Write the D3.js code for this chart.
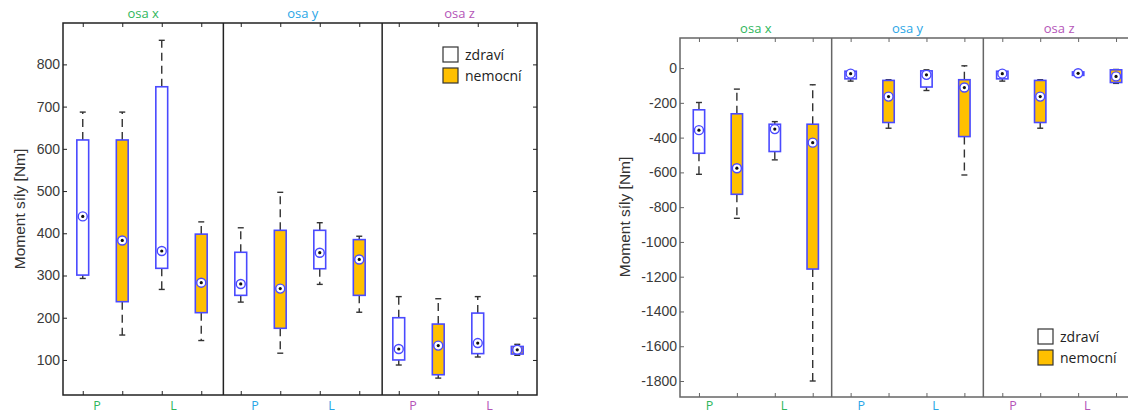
<!DOCTYPE html>
<html>
    <head>
        <meta charset="utf-8">
        <script src="https://d3js.org/d3.v7.min.js"></script>
        <style>
            body { margin: 0; background: #fff; }
            svg { display: block; }
        </style>
    </head>
    <body>
        <svg id="chart" width="1128" height="414"></svg>
        <script>
            /* axis groups, their colours and the P / L sides */
            const groups= ["osa x", "osa y", "osa z"];
            const groupColors= ["#2fb65c", "#2aa6e6", "#b455b8"];
            const sides= ["P", "L"];
            const statuses= ["zdraví", "nemocní"];
            // order of boxes inside one group: P zdravi, P nemocni, L zdravi, L nemocni

            /* five number summary per box: [whiskerLow, q1, median, q3, whiskerHigh] */
            const leftStats= [
                [293, 301, 440, 621, 687],
                [159, 238, 383, 621, 687],
                [267, 317, 358, 747, 857],
                [146, 212, 283, 398, 427],
                [237, 253, 280, 355, 413],
                [116, 175, 269, 407, 497],
                [279, 316, 354, 407, 425],
                [213, 253, 338, 385, 393],
                [88, 100, 126, 200, 250],
                [57, 65, 134, 185, 245],
                [107, 115, 140, 211, 250],
                [111, 114, 124, 132, 137]
            ];
            const rightStats= [
                [-611, -490, -357, -240, -198],
                [-864, -726, -576, -263, -121],
                [-528, -480, -351, -323, -308],
                [-1800, -1156, -429, -323, -96],
                [-75, -62, -32, -18, -15],
                [-346, -313, -164, -71, -67],
                [-129, -109, -39, -16, -10],
                [-615, -394, -112, -67, 13],
                [-75, -62, -32, -18, -15],
                [-346, -313, -164, -71, -67],
                [-45, -42, -30, -22, -20],
                [-88, -83, -48, -10, -8]
            ];
            const leftTicks= [100, 200, 300, 400, 500, 600, 700, 800];
            const rightTicks= [0, -200, -400, -600, -800, -1000, -1200, -1400, -1600, -1800];

            const svg= d3.select("#chart");

            /* draw one panel with three groups of four boxes */
            function drawPanel(p) {
                let g= svg.append("g");
                let x= d3.scaleLinear().domain([0.5, 12.5]).range([p.x0, p.x1]);
                let y= d3.scaleLinear().domain(p.yDomain).range([p.y1, p.y0]);
                let positions= d3.range(1, 13);

                // inward ticks on all four sides
                g.append("g").attr("transform", "translate(0," + p.y1 + ")")
                    .call(d3.axisTop(x).tickValues(positions).tickSize(4).tickFormat(""))
                    .call(a => a.select(".domain").remove())
                    .selectAll("line").attr("stroke", p.axisColor);
                g.append("g").attr("transform", "translate(0," + p.y0 + ")")
                    .call(d3.axisBottom(x).tickValues(positions).tickSize(4).tickFormat(""))
                    .call(a => a.select(".domain").remove())
                    .selectAll("line").attr("stroke", p.axisColor);
                let yAxis= g.append("g").attr("transform", "translate(" + p.x0 + ",0)")
                    .call(d3.axisRight(y).tickValues(p.ticks).tickSize(4).tickPadding(-7)
                        .tickFormat(d => String(d)));
                yAxis.select(".domain").remove();
                yAxis.selectAll("line").attr("stroke", p.axisColor);
                yAxis.selectAll("text")
                    .attr("text-anchor", "end")
                    .attr("fill", "#3a3a3a")
                    .style("font-family", "'Liberation Sans', Arial, sans-serif")
                    .style("font-size", p.tickFont + "px");
                g.append("g").attr("transform", "translate(" + p.x1 + ",0)")
                    .call(d3.axisLeft(y).tickValues(p.ticks).tickSize(4).tickFormat(""))
                    .call(a => a.select(".domain").remove())
                    .selectAll("line").attr("stroke", p.axisColor);

                // frame
                g.append("rect")
                    .attr("x", p.x0).attr("y", p.y0)
                    .attr("width", p.x1 - p.x0).attr("height", p.y1 - p.y0)
                    .attr("fill", "none").attr("stroke", p.axisColor).attr("stroke-width", 1.5);

                // group separators
                for (let s of p.separators) {
                    g.append("line")
                        .attr("x1", x(s)).attr("x2", x(s))
                        .attr("y1", p.y0).attr("y2", p.y1)
                        .attr("stroke", p.axisColor).attr("stroke-width", 1.5);
                }

                // group titles and P / L labels
                groups.forEach(function (name, i) {
                    let left= i == 0 ? 0.5 : p.separators[i - 1];
                    let right= i == 2 ? 12.5 : p.separators[i];
                    g.append("text")
                        .attr("x", (x(left) + x(right)) / 2)
                        .attr("y", p.titleY)
                        .attr("text-anchor", "middle")
                        .attr("fill", groupColors[i])
                        .style("font-family", "'Open Sans', sans-serif")
                        .style("font-size", "13px")
                        .text(name);
                    sides.forEach(function (side, j) {
                        g.append("text")
                            .attr("x", x(i * 4 + p.sideOffsets[j]))
                            .attr("y", 410)
                            .attr("text-anchor", "middle")
                            .attr("fill", groupColors[i])
                            .style("font-family", "'Open Sans', sans-serif")
                            .style("font-size", "12.5px")
                            .text(side);
                    });
                });

                // boxes
                let half= (x(0.3) - x(0)) / 2;
                p.stats.forEach(function (st, k) {
                    let cx= x(k + 1);
                    let sick= k % 2 == 1;
                    let b= g.append("g");
                    // whiskers
                    b.append("line")
                        .attr("x1", cx).attr("x2", cx)
                        .attr("y1", y(st[3])).attr("y2", y(st[4]))
                        .attr("stroke", "#333").attr("stroke-width", 1.4)
                        .attr("stroke-dasharray", "8,5");
                    b.append("line")
                        .attr("x1", cx).attr("x2", cx)
                        .attr("y1", y(st[1])).attr("y2", y(st[0]))
                        .attr("stroke", "#333").attr("stroke-width", 1.4)
                        .attr("stroke-dasharray", "8,5");
                    for (let v of [st[0], st[4]]) {
                        b.append("line")
                            .attr("x1", cx - 3).attr("x2", cx + 3)
                            .attr("y1", y(v)).attr("y2", y(v))
                            .attr("stroke", "#333").attr("stroke-width", 1.4);
                    }
                    b.append("rect")
                        .attr("x", cx - half).attr("width", 2 * half)
                        .attr("y", y(st[3])).attr("height", Math.max(y(st[1]) - y(st[3]), 1))
                        .attr("fill", sick ? "#ffc000" : "#fff")
                        .attr("stroke", "#4a4aff").attr("stroke-width", 1.6);
                    // median marker
                    b.append("circle")
                        .attr("cx", cx).attr("cy", y(st[2])).attr("r", 4.5)
                        .attr("fill", "#fff").attr("stroke", "#4a4aff").attr("stroke-width", 1.4);
                    b.append("circle")
                        .attr("cx", cx).attr("cy", y(st[2])).attr("r", 1.6)
                        .attr("fill", "#111");
                });

                // legend
                statuses.forEach(function (s, i) {
                    g.append("rect")
                        .attr("x", p.legendX).attr("y", p.legendY + i * 21)
                        .attr("width", 15).attr("height", 15)
                        .attr("fill", i == 1 ? "#ffc000" : "#fff")
                        .attr("stroke", "#333").attr("stroke-width", 1.2);
                    g.append("text")
                        .attr("x", p.legendX + 22).attr("y", p.legendY + i * 21 + 12.5)
                        .attr("fill", "#222")
                        .style("font-family", "'Open Sans', sans-serif")
                        .style("font-size", "14px")
                        .text(s);
                });

                // y label
                g.append("text")
                    .attr("transform", "translate(" + p.labelX + "," + p.labelY + ") rotate(-90)")
                    .attr("text-anchor", "middle")
                    .attr("fill", "#333")
                    .style("font-family", "'Liberation Sans', Arial, sans-serif")
                    .style("font-size", "15.5px")
                    .text("Moment síly [Nm]");
            }

            drawPanel({
                id: "L", stats: leftStats, ticks: leftTicks,
                x0: 63, x1: 537, y0: 23, y1: 395, yDomain: [17, 898],
                separators: [4.56, 8.58], axisColor: "#222", tickFont: 14,
                titleY: 18, sideOffsets: [1.36, 3.3],
                legendX: 443, legendY: 47, labelX: 25, labelY: 209
            });
            drawPanel({
                id: "R", stats: rightStats, ticks: rightTicks,
                x0: 680, x1: 1135, y0: 38, y1: 397, yDomain: [-1892, 173],
                separators: [4.5, 8.5], axisColor: "#666", tickFont: 14,
                titleY: 33, sideOffsets: [1.28, 3.24],
                legendX: 1038, legendY: 329, labelX: 630, labelY: 217
            });
        </script>
    </body>
</html>
